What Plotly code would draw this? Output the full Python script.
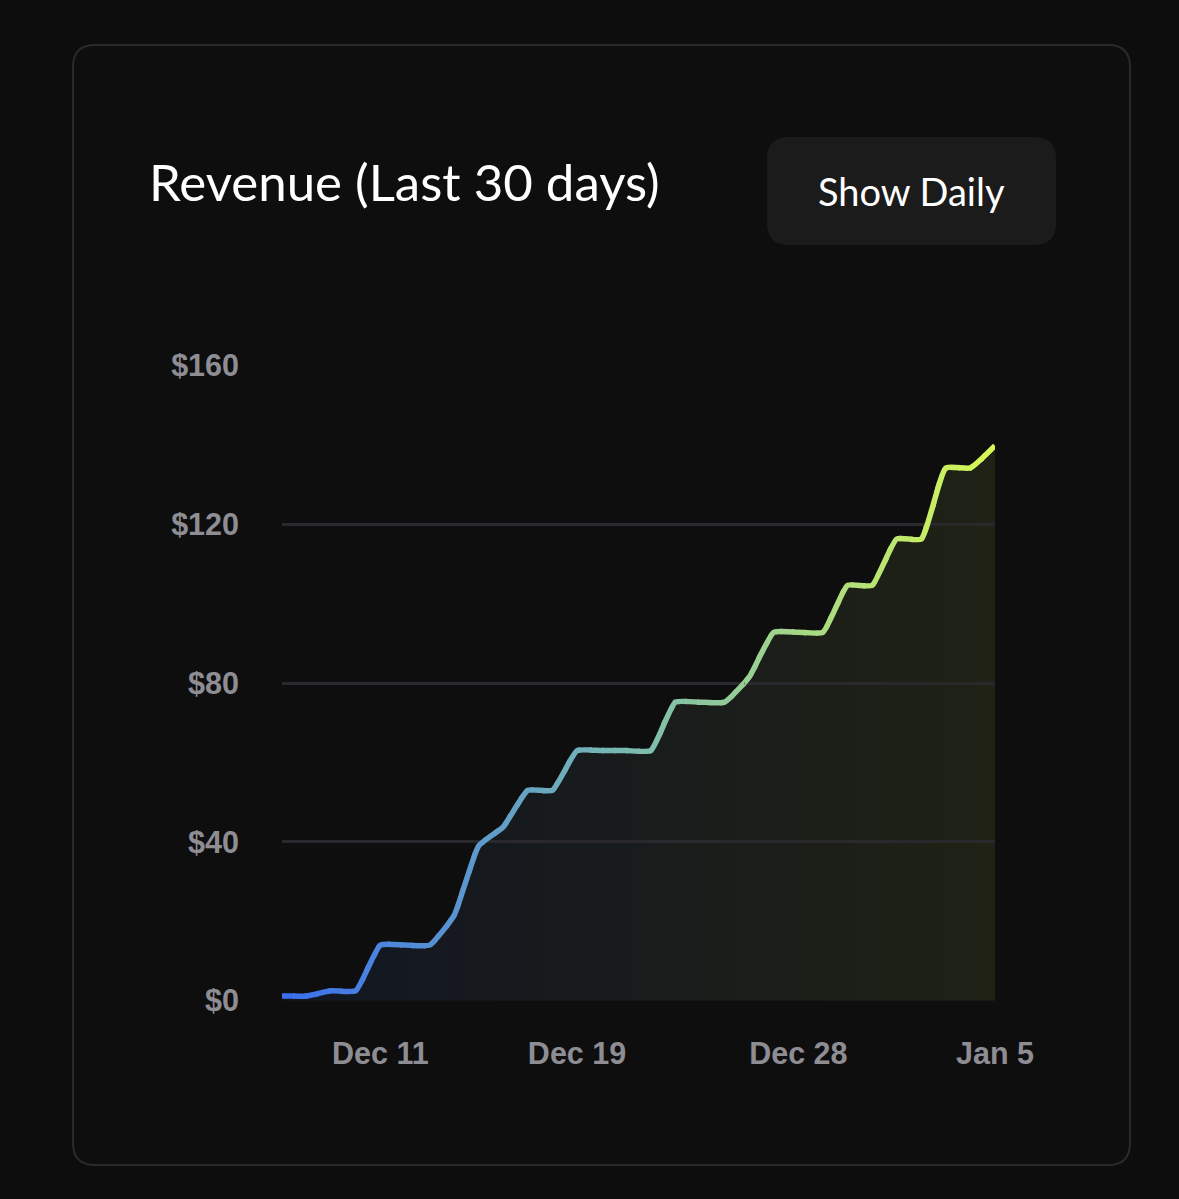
import pandas as pd
import plotly.graph_objects as go
from plotly.colors import sample_colorscale

# ---------------- data ----------------
dates = pd.date_range("2024-12-07", "2025-01-05", freq="D")
revenue = [1.2, 1.2, 2.5, 2.5, 14.0, 14.0, 14.0, 21.5, 39.0, 43.8,
           53.0, 53.0, 63.0, 63.0, 63.0, 63.0, 75.2, 75.2, 75.2, 81.5,
           92.8, 92.8, 92.8, 104.6, 104.6, 116.3, 116.3, 134.2, 134.2, 139.8]
y_tick_vals = [0, 40, 80, 120, 160]
y_tick_text = ["$0", "$40", "$80", "$120", "$160"]
x_tick_vals = ["2024-12-11", "2024-12-19", "2024-12-28", "2025-01-05"]
x_tick_text = ["Dec 11", "Dec 19", "Dec 28", "Jan 5"]
title_text = "Revenue (Last 30 days)"
button_text = "Show Daily"

# ---------------- style ----------------
W, H = 1179, 1199
BG = "#0d0d0e"
CARD_BG = "#0e0e0f"
CARD_BORDER = "#2a2a2e"
BTN_BG = "#1b1b1c"
TICK_COLOR = "#8e8d93"
GRID_COLOR = "#29292d"
line_scale = [[0.0, "#3a6ef0"], [0.5, "#7cbcae"], [1.0, "#d6f855"]]
fill_scale = [[0.0, "rgba(58,110,240,0.085)"], [1.0, "rgba(214,248,85,0.085)"]]
SMOOTH = 0.45
N_SLICES = 60

def px_x(p):
    return p / W

def px_y(p):
    return 1 - p / H

# plot area (pixels)
PX0, PX1 = 282, 995
PY_TOP, PY_BOT = 365.5, 1000.7
xd = [px_x(PX0), px_x(PX1)]
yd = [px_y(PY_BOT), px_y(PY_TOP)]

t0 = dates[0].value / 1e6
t1 = dates[-1].value / 1e6


def rounded_rect(x0, y0, x1, y1, r):
    X = lambda v: px_x(v)
    Y = lambda v: px_y(v)
    return (f"M {X(x0 + r)} {Y(y0)} L {X(x1 - r)} {Y(y0)} "
            f"Q {X(x1)} {Y(y0)} {X(x1)} {Y(y0 + r)} "
            f"L {X(x1)} {Y(y1 - r)} Q {X(x1)} {Y(y1)} {X(x1 - r)} {Y(y1)} "
            f"L {X(x0 + r)} {Y(y1)} Q {X(x0)} {Y(y1)} {X(x0)} {Y(y1 - r)} "
            f"L {X(x0)} {Y(y0 + r)} Q {X(x0)} {Y(y0)} {X(x0 + r)} {Y(y0)} Z")


fig = go.Figure()

# area fill with horizontal gradient
fig.add_trace(go.Scatter(
    x=dates, y=revenue, mode="lines",
    line=dict(width=0, shape="spline", smoothing=SMOOTH),
    fill="tozeroy",
    fillgradient=dict(type="horizontal", colorscale=fill_scale),
    hoverinfo="skip", showlegend=False, xaxis="x", yaxis="y",
))

# gradient line: same series drawn in narrow clipped x-slices
eps = 0.0015
layout_axes = {}
for i in range(N_SLICES):
    a = max(0.0, i / N_SLICES - eps)
    b = min(1.0, (i + 1) / N_SLICES + eps)
    dom = [xd[0] + a * (xd[1] - xd[0]), xd[0] + b * (xd[1] - xd[0])]
    rng = [t0 + a * (t1 - t0), t0 + b * (t1 - t0)]
    color = sample_colorscale(line_scale, (i + 0.5) / N_SLICES)[0]
    name = f"x{i + 2}"
    layout_axes[f"xaxis{i + 2}"] = dict(
        domain=dom, range=rng, type="date", visible=False,
        anchor="y", fixedrange=True, showgrid=False, zeroline=False,
        automargin=False,
    )
    fig.add_trace(go.Scatter(
        x=dates, y=revenue, mode="lines",
        line=dict(width=5.5, color=color, shape="spline", smoothing=SMOOTH),
        hoverinfo="skip", showlegend=False, xaxis=name, yaxis="y",
    ))

fig.update_layout(**layout_axes)

fig.update_layout(
    width=W, height=H, autosize=False,
    margin=dict(l=0, r=0, t=0, b=0, pad=0, autoexpand=False),
    paper_bgcolor=BG,
    plot_bgcolor="rgba(0,0,0,0)",
    showlegend=False,
    xaxis=dict(
        domain=xd, range=[t0, t1], type="date",
        tickvals=x_tick_vals, ticktext=x_tick_text,
        tickfont=dict(family="Liberation Sans, Arial, sans-serif", size=30.5,
                      color=TICK_COLOR, weight="bold"),
        showgrid=False, zeroline=False, showline=False, ticks="",
        ticklabelstandoff=32, fixedrange=True, automargin=False,
    ),
    yaxis=dict(
        domain=yd, range=[0, 160],
        tickvals=y_tick_vals, ticktext=y_tick_text,
        tickfont=dict(family="Liberation Sans, Arial, sans-serif", size=30.5,
                      color=TICK_COLOR, weight="bold"),
        showgrid=True, gridcolor=GRID_COLOR, gridwidth=2.5,
        zeroline=False, showline=False, ticks="",
        ticklabelstandoff=42, fixedrange=True, automargin=False,
    ),
    shapes=[
        dict(type="path", xref="paper", yref="paper", layer="below",
             path=rounded_rect(73, 45, 1130, 1165, 22),
             fillcolor=CARD_BG, line=dict(color=CARD_BORDER, width=2)),
        dict(type="path", xref="paper", yref="paper", layer="below",
             path=rounded_rect(767, 137, 1056, 245, 22),
             fillcolor=BTN_BG, line=dict(width=0)),
    ],
    annotations=[
        dict(text=title_text, xref="paper", yref="paper",
             x=px_x(147), y=px_y(182), xanchor="left", yanchor="middle",
             showarrow=False,
             font=dict(family="Lato, Noto Sans, sans-serif", size=51, color="#ffffff")),
        dict(text=button_text, xref="paper", yref="paper",
             x=px_x(911.5), y=px_y(191), xanchor="center", yanchor="middle",
             showarrow=False,
             font=dict(family="Lato, Noto Sans, sans-serif", size=38, color="#ffffff")),
    ],
)

fig.write_html(
    "out.html",
    config={"responsive": False, "displayModeBar": False},
    post_script="document.body.style.margin='0';document.body.style.overflow='hidden';document.body.style.background='" + BG + "';",
)
